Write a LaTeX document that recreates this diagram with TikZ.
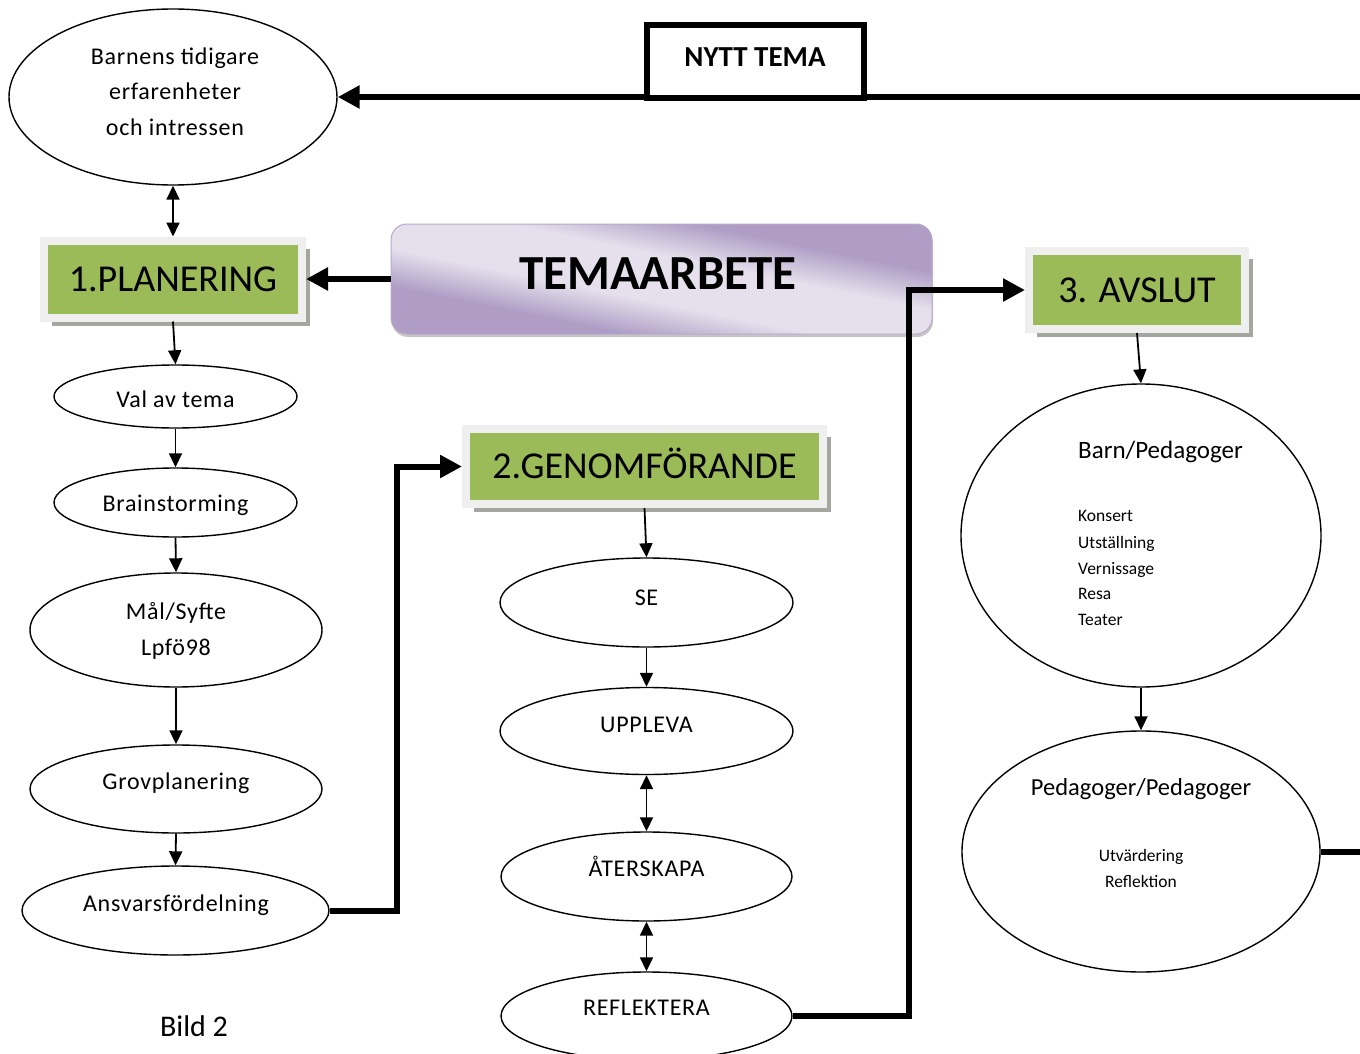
\documentclass[tikz,border=0pt]{standalone}
\usepackage{fontspec}
\setmainfont{Carlito}
\newfontfamily\spacedfont[LetterSpace=3]{Carlito}
\usetikzlibrary{arrows.meta,shapes.geometric,shadows,calc}
\definecolor{boxgreen}{HTML}{9BBB59}
\definecolor{framegray}{HTML}{EFEFEF}
\definecolor{shadowgray}{HTML}{A4A79F}
\definecolor{lavlight}{HTML}{E5E0EC}
\definecolor{lavdark}{HTML}{AF9DC5}
\definecolor{lavborder}{HTML}{B9AACC}
\pgfdeclareverticalshading{lavsh}{100bp}{color(0bp)=(lavdark); color(37bp)=(lavdark); color(45bp)=(lavlight); color(55bp)=(lavlight); color(63bp)=(lavdark); color(100bp)=(lavdark)}
\begin{document}
\begin{tikzpicture}[x=1pt,y=-1pt,
  ell/.style={draw, ellipse, line width=1.4pt, inner sep=0pt, fill=white},
  lbl/.style={inner sep=0pt, font=\spacedfont\fontsize{24}{28}\selectfont, text height=21.5pt, text depth=6pt},
  small/.style={inner sep=0pt, anchor=west, font=\fontsize{17.5}{20}\selectfont, text height=15.6pt, text depth=4.3pt},
  greenbox/.style={fill=boxgreen, draw=framegray, line width=8pt, inner sep=0pt, outer sep=4pt,
    drop shadow={shadow xshift=8pt, shadow yshift=-8pt, fill=shadowgray, opacity=1},
    font=\fontsize{38}{42}\selectfont, text height=24.5pt, text depth=0pt},
  thinarr/.style={line width=1.8pt, -{Triangle[length=14pt,width=13pt]}},
  dblarr/.style={line width=1.8pt, {Triangle[length=14pt,width=13pt]}-{Triangle[length=14pt,width=13pt]}},
  thickarr/.style={line width=6pt, -{Triangle[length=22pt,width=22pt]}},
  thickline/.style={line width=6pt}
]
\useasboundingbox (0,0) rectangle (1360,1054);
\clip (0,0) rectangle (1360,1054);
\fill[white] (0,0) rectangle (1360,1054);

% ---- left column
\node[ell, minimum width=328pt, minimum height=176pt] (barnens) at (173,97) {};
\node[lbl] (barnens1) at (175,57) {Barnens tidigare};
\node[lbl] (barnens2) at (175,92) {erfarenheter};
\node[lbl] (barnens3) at (175,128) {och intressen};

\node[greenbox, minimum width=258pt, minimum height=77pt] (planering) at (173,279) {1.PLANERING};

\node[ell, minimum width=243pt, minimum height=63pt] (val) at (175.5,396.5) {};
\node[lbl] (valt) at (175.5,400) {Val av tema};
\node[ell, minimum width=243pt, minimum height=69pt] (brain) at (175.5,502.5) {};
\node[lbl] (braint) at (175.5,504) {Brainstorming};
\node[ell, minimum width=292pt, minimum height=114pt] (mal) at (176,630) {};
\node[lbl] (malt1) at (176,612) {Mål/Syfte};
\node[lbl] (malt2) at (176,648) {Lpfö98};
\node[ell, minimum width=292pt, minimum height=88pt] (grov) at (176,789) {};
\node[lbl] (grovt) at (176,782) {Grovplanering};
\node[ell, minimum width=307pt, minimum height=89pt] (ansvar) at (175.5,910.5) {};
\node[lbl] (ansvart) at (176,904) {Ansvarsfördelning};
\node[inner sep=0pt, font=\fontsize{30}{34}\selectfont, text height=26.8pt, text depth=7.5pt] (bild) at (194,1027) {Bild 2};

% ---- TEMAARBETE
\fill[gray!45, rounded corners=16pt] (392,227) rectangle (933,337);
\begin{scope}
  \clip[rounded corners=16pt] (391,224) rectangle (932,334);
  \begin{scope}[transform canvas={shift={(661.5,279)}, cm={1,-0.2033,0,1,(0,0)}}]
    \shade[shading=lavsh] (-290,-120) rectangle (290,120);
  \end{scope}
\end{scope}
\node[draw=lavborder, line width=1pt, rounded corners=16pt, minimum width=541pt, minimum height=110pt, inner sep=0pt] (tema) at (661.5,279) {};
\node[inner sep=0pt, font=\fontsize{49}{52}\bfseries\selectfont, text height=31.5pt, text depth=0pt] (tematxt) at (658,274) {TEMAARBETE};

% ---- middle column
\node[greenbox, minimum width=357pt, minimum height=75pt] (genom) at (644.5,466.5) {2.GENOMFÖRANDE};
\node[ell, minimum width=293pt, minimum height=89pt] (se) at (646.5,602.5) {};
\node[lbl] (set) at (646.5,598) {SE};
\node[ell, minimum width=293pt, minimum height=87pt] (upp) at (646.5,731) {};
\node[lbl] (uppt) at (646.5,725) {UPPLEVA};
\node[ell, minimum width=291pt, minimum height=89pt] (ater) at (646.5,876.5) {};
\node[lbl] (atert) at (646.5,869) {ÅTERSKAPA};
\node[ell, minimum width=291pt, minimum height=88pt] (refl) at (646.5,1016) {};
\node[lbl] (reflt) at (646.5,1008) {REFLEKTERA};

% ---- right column
\node[greenbox, minimum width=216pt, minimum height=78pt] (avslut) at (1137,290) {3. AVSLUT};
\node[ell, minimum width=360pt, minimum height=303pt] (barn) at (1141,535.5) {};
\node[inner sep=0pt, anchor=west, font=\fontsize{25}{28}\selectfont, text height=22.35pt, text depth=6.25pt] (barnt) at (1078,450) {Barn/Pedagoger};
\node[small] (l1) at (1078,516) {Konsert};
\node[small] (l2) at (1078,543) {Utställning};
\node[small] (l3) at (1078,569) {Vernissage};
\node[small] (l4) at (1078,594) {Resa};
\node[small] (l5) at (1078,620) {Teater};
\node[ell, minimum width=358pt, minimum height=241pt] (peda) at (1141,851.5) {};
\node[inner sep=0pt, font=\fontsize{24.5}{28}\selectfont, text height=21.9pt, text depth=6.1pt] (pedat) at (1141,788) {Pedagoger/Pedagoger};
\node[small, anchor=center] (p1) at (1141,856) {Utvärdering};
\node[small, anchor=center] (p2) at (1141,882) {Reflektion};

% ---- connectors
\coordinate (topR) at (1360,97);
\coordinate (rightR) at (1360,851.5);
\coordinate (bendA) at (397,910.5);
\coordinate (bendB) at (909,290);

\draw[thickarr] (topR) -- (barnens.east);
\node[draw, line width=6pt, fill=white, minimum width=217pt, minimum height=73.5pt, inner sep=0pt] (nyttbox) at (755,61.75) {};
\node[inner sep=0pt, font=\fontsize{29}{32}\bfseries\selectfont, text height=18.7pt, text depth=0pt] (nytt) at (755,57) {NYTT TEMA};

\draw[dblarr] (barnens.south) -- (planering.north);
\draw[thickarr] (tema.west) -- (tema.west -| planering.east);
\draw[thinarr] (planering.south) -- (val.north);
\draw[thinarr] (val.south) -- (brain.north);
\draw[thinarr] (brain.south) -- (mal.north);
\draw[thinarr] (mal.south) -- (grov.north);
\draw[thinarr] (grov.south) -- (ansvar.north);
\draw[thickarr] (ansvar.east) -- (bendA) |- (genom.west);

\draw[thinarr] (genom.south) -- (se.north);
\draw[thinarr] (se.south) -- (upp.north);
\draw[dblarr] (upp.south) -- (ater.north);
\draw[dblarr] (ater.south) -- (refl.north);
\draw[thickarr] (refl.east) -| (bendB) -- (avslut.west);

\draw[thinarr] (avslut.south) -- (barn.north);
\draw[thinarr] (barn.south) -- (peda.north);
\draw[thickline] (peda.east) -- (rightR);
\end{tikzpicture}
\end{document}
